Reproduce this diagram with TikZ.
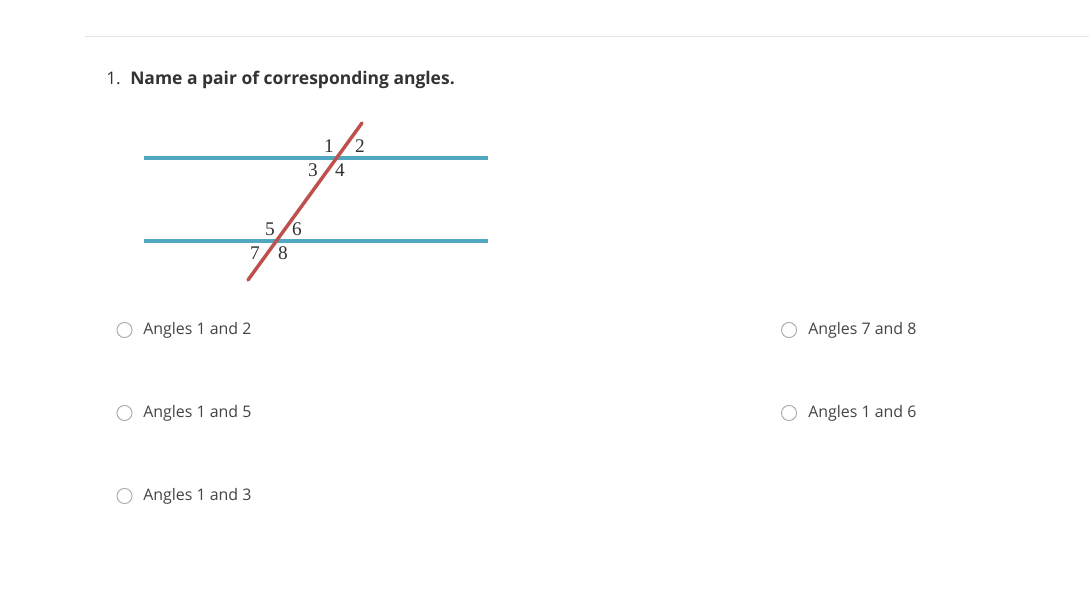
\documentclass[tikz,border=0pt]{standalone}
\usepackage{fontspec}
\setmainfont{Open Sans}
\newfontfamily\numfont{Liberation Serif}
\definecolor{txt}{HTML}{333333}
\definecolor{opt}{HTML}{444444}
\definecolor{rule}{HTML}{E6E6E6}
\definecolor{para}{HTML}{52A8C0}
\definecolor{trans}{HTML}{C0504D}
\definecolor{radio}{HTML}{AAAAAA}
\tikzset{
  optlabel/.style={anchor=west, inner sep=0pt, text=opt, font=\fontsize{11.95pt}{14pt}\selectfont},
  radiob/.style={circle, draw=radio, line width=0.7pt, minimum size=11.3pt, inner sep=0pt},
  anglab/.style={inner sep=0pt, text=txt, font=\numfont\fontsize{14.5pt}{16pt}\selectfont},
  paraline/.style={draw=para, line width=2.6pt},
  transline/.style={draw=trans, line width=2.6pt, line cap=round},
}
\begin{document}
\begin{tikzpicture}[x=0.75pt,y=-0.75pt]
\useasboundingbox (0,0) rectangle (1089,595);
\fill[white] (0,0) rectangle (1089,595);
\coordinate (r1) at (85,36.5);
\coordinate (r2) at (1089,36.5);
\draw[rule, line width=0.8pt] (r1) -- (r2);
\node[anchor=base west, inner sep=0pt, text=txt, font=\fontsize{13pt}{15pt}\selectfont] (num) at (106,85) {1.};
\node[anchor=base west, inner sep=0pt, text=txt, font=\bfseries\fontsize{13.1pt}{15pt}\selectfont] (q) at (130,85) {Name a pair of corresponding angles.};
% diagram
\coordinate (a1) at (144,158);
\coordinate (a2) at (488,158);
\coordinate (b1) at (144,241);
\coordinate (b2) at (488,241);
\coordinate (t1) at (248,280);
\coordinate (t2) at (362,123);
\draw[paraline] (a1) -- (a2);
\draw[paraline] (b1) -- (b2);
\draw[transline] (t1) -- (t2);
\node[anglab] (n1) at (329,146) {1};
\node[anglab] (n2) at (360,146) {2};
\node[anglab] (n3) at (313,170) {3};
\node[anglab] (n4) at (340,170) {4};
\node[anglab] (n5) at (270,229) {5};
\node[anglab] (n6) at (297,229) {6};
\node[anglab] (n7) at (255,253) {7};
\node[anglab] (n8) at (283,253) {8};
% options
\node[radiob] (c1) at (124.5,330) {};
\node[optlabel] (o1) at (143,330.5) {Angles 1 and 2};
\node[radiob] (c2) at (124.5,413) {};
\node[optlabel] (o2) at (143,413.5) {Angles 1 and 5};
\node[radiob] (c3) at (124.5,496) {};
\node[optlabel] (o3) at (143,496.5) {Angles 1 and 3};
\node[radiob] (c4) at (789,330) {};
\node[optlabel] (o4) at (808,330.5) {Angles 7 and 8};
\node[radiob] (c5) at (789,413) {};
\node[optlabel] (o5) at (808,413.5) {Angles 1 and 6};
\end{tikzpicture}
\end{document}
